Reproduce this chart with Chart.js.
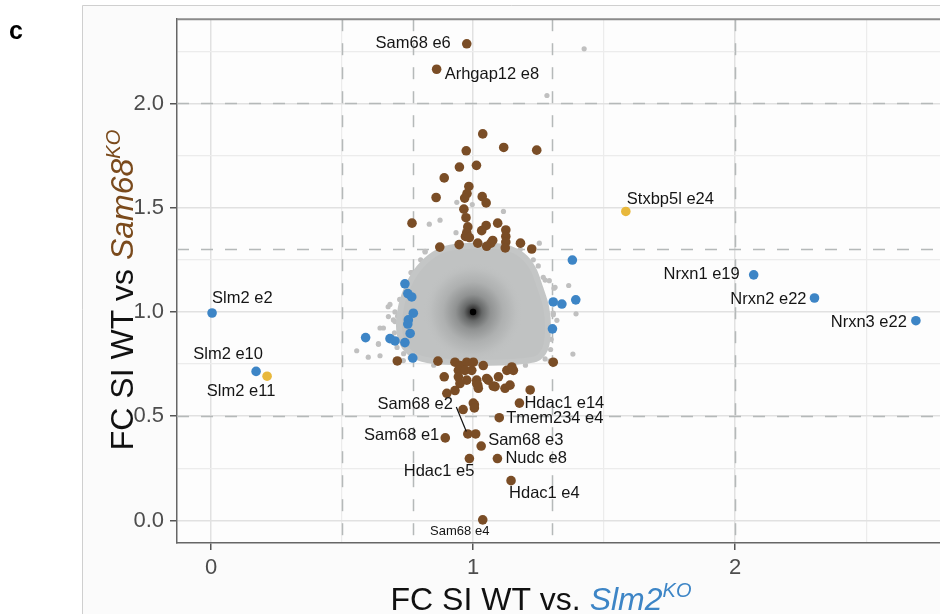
<!DOCTYPE html>
<html><head><meta charset="utf-8">
<script src="https://cdn.jsdelivr.net/npm/chart.js@4.4.1/dist/chart.umd.min.js"></script>
<style>html,body{margin:0;padding:0;background:#fff}#wrap{width:940px;height:614px;position:relative}</style>
</head><body><div id="wrap"><canvas id="c" width="940" height="614"></canvas></div>
<script>
// ---------- data ----------
const xGridValues = [0, 0.5, 1, 1.5, 2, 2.5];
const xTickLabels = [0, 1, 2];
const yGridValues = [0, 0.25, 0.5, 0.75, 1, 1.25, 1.5, 1.75, 2, 2.25];
const yTickLabels = [0, 0.5, 1, 1.5, 2];
const xThresholds = [0.5, 0.769, 1.3, 2.0];
const yThresholds = [0.5, 1.3, 2.0];

// exons changed in Sam68 KO (brown)
const sam68Exons = [
  {x:0.976,y:2.286},{x:0.861,y:2.164},{x:1.037,y:1.854},{x:1.117,y:1.789},{x:1.243,y:1.776},
  {x:0.974,y:1.773},{x:0.948,y:1.695},{x:1.013,y:1.703},{x:0.890,y:1.643},{x:0.984,y:1.602},
  {x:0.859,y:1.549},{x:0.977,y:1.568},{x:0.968,y:1.546},{x:1.035,y:1.553},{x:1.050,y:1.523},
  {x:0.965,y:1.493},{x:0.973,y:1.452},{x:0.767,y:1.426},{x:0.980,y:1.408},{x:1.050,y:1.415},
  {x:1.094,y:1.426},{x:1.125,y:1.393},{x:0.976,y:1.380},{x:0.971,y:1.362},{x:1.033,y:1.390},
  {x:0.986,y:1.357},{x:1.125,y:1.362},{x:1.125,y:1.335},{x:1.018,y:1.330},{x:1.075,y:1.343},
  {x:1.068,y:1.330},{x:0.947,y:1.323},{x:0.873,y:1.311},{x:1.052,y:1.315},{x:1.181,y:1.330},
  {x:1.224,y:1.302},{x:1.123,y:1.307},
  {x:0.711,y:0.765},{x:0.866,y:0.764},{x:0.931,y:0.759},{x:0.950,y:0.743},{x:0.976,y:0.759},
  {x:1.001,y:0.759},{x:1.039,y:0.743},{x:0.944,y:0.720},{x:0.969,y:0.720},{x:0.995,y:0.720},
  {x:1.306,y:0.759},{x:0.890,y:0.689},{x:0.944,y:0.689},{x:0.976,y:0.673},{x:1.014,y:0.673},
  {x:1.052,y:0.681},{x:1.097,y:0.689},{x:1.129,y:0.720},{x:1.154,y:0.720},{x:1.148,y:0.736},
  {x:1.122,y:0.634},{x:1.141,y:0.649},{x:0.900,y:0.610},{x:0.931,y:0.623},{x:1.014,y:0.657},
  {x:1.020,y:0.634},{x:1.058,y:0.673},{x:1.077,y:0.645},{x:1.218,y:0.626},{x:0.950,y:0.657},
  {x:1.018,y:0.649},{x:1.084,y:0.642},{x:1.001,y:0.563},{x:1.177,y:0.563},{x:0.962,y:0.532},
  {x:1.005,y:0.555},{x:1.005,y:0.540},{x:1.100,y:0.493},{x:0.894,y:0.396},{x:0.980,y:0.415},
  {x:1.010,y:0.415},{x:1.031,y:0.357},{x:0.986,y:0.297},{x:1.093,y:0.297},{x:1.145,y:0.191},
  {x:1.037,y:0.003}
];
// exons changed in Slm2 KO (blue)
const slm2Exons = [
  {x:0.004,y:0.995},{x:0.172,y:0.715},{x:1.379,y:1.249},{x:0.740,y:1.135},{x:0.751,y:1.088},
  {x:0.766,y:1.072},{x:0.772,y:0.994},{x:0.753,y:0.962},{x:0.751,y:0.942},{x:0.760,y:0.897},
  {x:0.590,y:0.877},{x:0.683,y:0.872},{x:0.702,y:0.861},{x:0.740,y:0.853},{x:0.770,y:0.779},
  {x:1.306,y:1.048},{x:1.339,y:1.038},{x:1.392,y:1.058},{x:1.303,y:0.919},
  {x:2.071,y:1.178},{x:2.303,y:1.067},{x:2.690,y:0.958}
];
// changed in both (yellow)
const bothExons = [{x:1.583,y:1.482},{x:0.214,y:0.692}];
// unchanged exons outside the dense cloud (grey)
const otherExons = [
  {x:1.424,y:2.262},{x:1.282,y:2.038},{x:0.938,y:1.526},{x:0.997,y:1.515},{x:1.116,y:1.482},
  {x:0.833,y:1.421},{x:0.874,y:1.440},{x:1.253,y:1.330},{x:0.935,y:1.380},{x:0.817,y:1.288},
  {x:0.861,y:1.276},{x:0.763,y:1.189},{x:1.268,y:1.166},{x:1.291,y:1.150},{x:1.365,y:1.127},
  {x:1.309,y:1.114},{x:1.393,y:0.991},{x:1.381,y:0.798},{x:0.683,y:1.036},{x:0.677,y:0.978},
  {x:0.702,y:0.954},{x:0.645,y:0.923},{x:0.639,y:0.848},{x:0.556,y:0.814},{x:0.600,y:0.783},
  {x:0.645,y:0.790},{x:0.734,y:0.767},{x:1.243,y:0.814},{x:1.275,y:0.775},{x:1.298,y:0.869},
  {x:1.306,y:0.994},{x:0.658,y:0.923},{x:0.676,y:1.025},{x:0.702,y:1.000},{x:0.696,y:0.962},
  {x:0.766,y:1.189},{x:0.817,y:1.291},{x:1.249,y:1.221},{x:1.275,y:1.153},{x:1.313,y:1.118},
  {x:1.306,y:0.987},{x:1.243,y:0.803},{x:1.294,y:0.765},{x:0.639,y:0.845},{x:0.720,y:1.060},
  {x:0.735,y:0.800},{x:1.280,y:0.930},{x:1.230,y:1.250},{x:0.800,y:1.250},{x:0.710,y:0.830},
  {x:0.700,y:0.900},{x:0.690,y:0.880},{x:0.712,y:0.980},{x:1.300,y:1.050},{x:1.320,y:0.960},
  {x:1.296,y:0.820},{x:0.760,y:0.780},{x:0.850,y:0.745},{x:1.200,y:0.745},{x:1.180,y:1.300}
];
// outline of the dense grey cloud of unchanged exons
const cloudOutline = [
  {x:1.008,y:1.319},{x:1.122,y:1.310},{x:1.187,y:1.272},{x:1.229,y:1.207},{x:1.256,y:1.117},
  {x:1.279,y:1.023},{x:1.286,y:0.915},{x:1.275,y:0.822},{x:1.240,y:0.775},{x:1.103,y:0.758},
  {x:0.874,y:0.762},{x:0.790,y:0.782},{x:0.740,y:0.830},{x:0.718,y:0.915},{x:0.725,y:1.023},
  {x:0.748,y:1.113},{x:0.782,y:1.192},{x:0.836,y:1.263},{x:0.901,y:1.305},{x:1.008,y:1.319}
];
const densityPeak = [{x:1, y:1}];
const labelNames = ['Sam68 e6','Arhgap12 e8','Stxbp5l e24','Nrxn1 e19','Nrxn2 e22','Nrxn3 e22',
  'Slm2 e2','Slm2 e10','Slm2 e11','Sam68 e2','Hdac1 e14','Tmem234 e4','Sam68 e1','Sam68 e3',
  'Nudc e8','Hdac1 e5','Hdac1 e4','Sam68 e4'];
const labelX = [0.976,0.861,1.583,2.071,2.303,2.690,0.004,0.172,0.214,0.980,1.177,1.100,0.894,1.031,1.093,0.986,1.145,1.037];
const labelY = [2.286,2.164,1.482,1.178,1.067,0.958,0.995,0.715,0.692,0.415,0.563,0.493,0.396,0.357,0.297,0.297,0.191,0.003];

// ---------- styles ----------
const BROWN = '#7a4d26', BLUE = '#3d85c6', YELLOW = '#e8b83c', GREY = '#c0c2c2';
const labelStyle = {
  'Sam68 e6':   {dx:-16, dy:0,  align:'right'},
  'Arhgap12 e8':{dx:8,   dy:5,  align:'left'},
  'Stxbp5l e24':{dx:1,   dy:-12,align:'left'},
  'Nrxn1 e19':  {dx:-14, dy:0,  align:'right'},
  'Nrxn2 e22':  {dx:-8,  dy:1,  align:'right'},
  'Nrxn3 e22':  {dx:-9,  dy:2,  align:'right'},
  'Slm2 e2':    {dx:0,   dy:-15,align:'left'},
  'Slm2 e10':   {dx:-28, dy:-17,align:'center'},
  'Slm2 e11':   {dx:-26, dy:15, align:'center'},
  'Sam68 e2':   {dx:-15, dy:-29,align:'right', line:[-11.5,-27,-1.5,-2.5]},
  'Hdac1 e14':  {dx:5,   dy:0,  align:'left'},
  'Tmem234 e4': {dx:7,   dy:1,  align:'left'},
  'Sam68 e1':   {dx:-6,  dy:-2, align:'right'},
  'Sam68 e3':   {dx:7,   dy:-6, align:'left'},
  'Nudc e8':    {dx:8,   dy:0,  align:'left'},
  'Hdac1 e5':   {dx:5,   dy:13, align:'right'},
  'Hdac1 e4':   {dx:-2,  dy:13, align:'left'},
  'Sam68 e4':   {dx:-23, dy:12, align:'center', font:'13px "Liberation Sans Narrow", "Liberation Sans", Arial, sans-serif'}
};
const FONT = '"Liberation Sans", Arial, Helvetica, sans-serif';

const backgroundPlugin = {
  id:'bg',
  beforeDraw(chart){
    const c = chart.ctx, a = chart.chartArea;
    c.save();
    c.fillStyle = '#fbfbfb';
    c.fillRect(82, 5, 940-82, 614-5);
    c.strokeStyle = '#cfcfcf'; c.lineWidth = 1;
    c.beginPath(); c.moveTo(82.5, 614); c.lineTo(82.5, 5.5); c.lineTo(940, 5.5); c.stroke();
    c.fillStyle = '#fdfdfd';
    c.fillRect(a.left, a.top, a.right-a.left, a.bottom-a.top);
    c.fillStyle = '#000';
    c.font = 'bold 25px ' + FONT;
    c.textBaseline = 'alphabetic'; c.textAlign = 'left';
    c.fillText('c', 9, 39);
    c.restore();
  },
  beforeDatasetsDraw(chart){
    const c = chart.ctx, a = chart.chartArea, xs = chart.scales.x, ys = chart.scales.y;
    c.save();
    c.strokeStyle = '#b5b9b9'; c.lineWidth = 1.5; c.setLineDash([12, 12]);
    xThresholds.forEach(v => { const p = Math.round(xs.getPixelForValue(v)) + 0.5;
      c.beginPath(); c.moveTo(p, a.top); c.lineTo(p, a.bottom); c.stroke(); });
    yThresholds.forEach(v => { const p = Math.round(ys.getPixelForValue(v)) + 0.5;
      c.beginPath(); c.moveTo(a.left, p); c.lineTo(a.right, p); c.stroke(); });
    c.setLineDash([]);
    c.strokeStyle = '#8a8a8a'; c.lineWidth = 2;
    c.beginPath(); c.moveTo(a.left, a.top); c.lineTo(a.right, a.top); c.stroke();
    c.restore();
  },
  afterDatasetsDraw(chart){
    const c = chart.ctx, xs = chart.scales.x, ys = chart.scales.y;
    c.save();
    c.fillStyle = '#151515'; c.textBaseline = 'middle';
    labelNames.forEach((name, i) => {
      const st = labelStyle[name];
      const px = xs.getPixelForValue(labelX[i]), py = ys.getPixelForValue(labelY[i]);
      c.font = st.font || ('16.5px ' + FONT);
      c.textAlign = st.align;
      c.fillText(name, px + st.dx, py + st.dy);
      if (st.line) {
        c.strokeStyle = '#111'; c.lineWidth = 1.2;
        c.beginPath(); c.moveTo(px + st.line[0], py + st.line[1]); c.lineTo(px + st.line[2], py + st.line[3]); c.stroke();
      }
    });
    c.restore();
  },
  afterDraw(chart){
    const c = chart.ctx;
    function rich(segs){
      let w = 0;
      segs.forEach(s => { c.font = s.font; s.w = c.measureText(s.t).width; w += s.w; });
      return w;
    }
    const big = '32px ' + FONT, bigIt = 'italic 32px ' + FONT, sup = 'italic 20px ' + FONT;
    c.save();
    const xs = [{t:'FC SI WT vs. ', font:big, col:'#111', dy:0},
                {t:'Slm2', font:bigIt, col:BLUE, dy:0},
                {t:'KO', font:sup, col:BLUE, dy:-13}];
    let w = rich(xs), x = 541 - w/2;
    c.textBaseline = 'alphabetic'; c.textAlign = 'left';
    xs.forEach(s => { c.font = s.font; c.fillStyle = s.col; c.fillText(s.t, x, 610 + s.dy); x += s.w; });
    c.restore();
    c.save();
    const ysg = [{t:'FC SI WT vs ', font:big, col:'#111', dy:0},
                 {t:'Sam68', font:bigIt, col:'#7a4a1c', dy:0},
                 {t:'KO', font:sup, col:'#7a4a1c', dy:-13}];
    w = rich(ysg);
    c.translate(133, 290); c.rotate(-Math.PI/2);
    x = -w/2;
    c.textBaseline = 'alphabetic'; c.textAlign = 'left';
    ysg.forEach(s => { c.font = s.font; c.fillStyle = s.col; c.fillText(s.t, x, 0 + s.dy); x += s.w; });
    c.restore();
  }
};

function gridColor(labels){ return ctx => (ctx.tick && labels.includes(ctx.tick.value)) ? '#e1e1e1' : '#ececec'; }
function gridWidth(labels){ return ctx => (ctx.tick && labels.includes(ctx.tick.value)) ? 1.5 : 1.2; }
function tickCol(labels){ return ctx => (ctx.tick && labels.includes(ctx.tick.value)) ? '#555' : 'rgba(0,0,0,0)'; }

const chart = new Chart(document.getElementById('c'), {
  type: 'scatter',
  data: { datasets: [
    {label:'both', data: bothExons, backgroundColor: YELLOW, borderWidth:0, pointRadius:4.8, order:1},
    {label:'slm2', data: slm2Exons, backgroundColor: BLUE, borderWidth:0, pointRadius:4.8, order:2},
    {label:'sam68', data: sam68Exons, backgroundColor: BROWN, borderWidth:0, pointRadius:4.8, order:3},
    {label:'peak', data: densityPeak, backgroundColor:'#000', borderWidth:0, pointRadius:3.2, order:4},
    {label:'density', data: densityPeak, borderWidth:0, pointRadius:50, order:5,
      backgroundColor: (ctx) => {
        const ch = ctx.chart, xs = ch.scales.x, ys = ch.scales.y;
        if (!ch.chartArea || !ctx.raw) return 'rgba(0,0,0,0)';
        const px = xs.getPixelForValue(ctx.raw.x), py = ys.getPixelForValue(ctx.raw.y);
        const g = ch.ctx.createRadialGradient(px, py, 0, px, py, 50);
        g.addColorStop(0, '#111'); g.addColorStop(0.08, '#3a3a3a'); g.addColorStop(0.18, '#676969');
        g.addColorStop(0.35, '#909292'); g.addColorStop(0.6, '#aeb0b0'); g.addColorStop(0.85, '#bdbfbf');
        g.addColorStop(1, 'rgba(192,194,194,0)');
        return g;
      }},
    {label:'cloud', type:'line', data: cloudOutline, fill:'shape', backgroundColor: GREY,
      borderColor: '#c4c6c6', borderWidth: 6, pointRadius:0, tension:0.3, borderJoinStyle:'round', order:6},
    {label:'other', data: otherExons, backgroundColor: '#c0c0c0', borderWidth:0, pointRadius:2.6, order:7}
  ]},
  options: {
    responsive:false, animation:false, devicePixelRatio:1,
    layout:{autoPadding:false, padding:{top:8, left:0, right:0, bottom:0}},
    plugins:{legend:{display:false}, tooltip:{enabled:false}},
    events:[],
    scales:{
      x:{ type:'linear', min:-0.1298, max:2.782,
        afterBuildTicks: s => { s.ticks = xGridValues.map(v => ({value:v})); },
        afterFit: s => { s.height = 71; },
        ticks:{ callback: v => xTickLabels.includes(v) ? String(v) : '', color:'#4d4d4d',
          font:{family:FONT, size:22}, padding:5, maxRotation:0, autoSkip:false },
        grid:{ color: gridColor(xTickLabels), lineWidth: gridWidth(xTickLabels), tickLength:7,
          tickColor: tickCol(xTickLabels), tickWidth:1.5 },
        border:{ display:true, color:'#666', width:1.5 }
      },
      y:{ type:'linear', min:-0.108, max:2.404,
        afterBuildTicks: s => { s.ticks = yGridValues.map(v => ({value:v})); },
        afterFit: s => { s.width = 177; },
        ticks:{ callback: v => yTickLabels.includes(v) ? v.toFixed(1) : '', color:'#4d4d4d',
          font:{family:FONT, size:22}, padding:6, autoSkip:false },
        grid:{ color: gridColor(yTickLabels), lineWidth: gridWidth(yTickLabels), tickLength:7,
          tickColor: tickCol(yTickLabels), tickWidth:1.5 },
        border:{ display:true, color:'#666', width:1.5 }
      }
    }
  },
  plugins:[backgroundPlugin]
});
</script></body></html>
